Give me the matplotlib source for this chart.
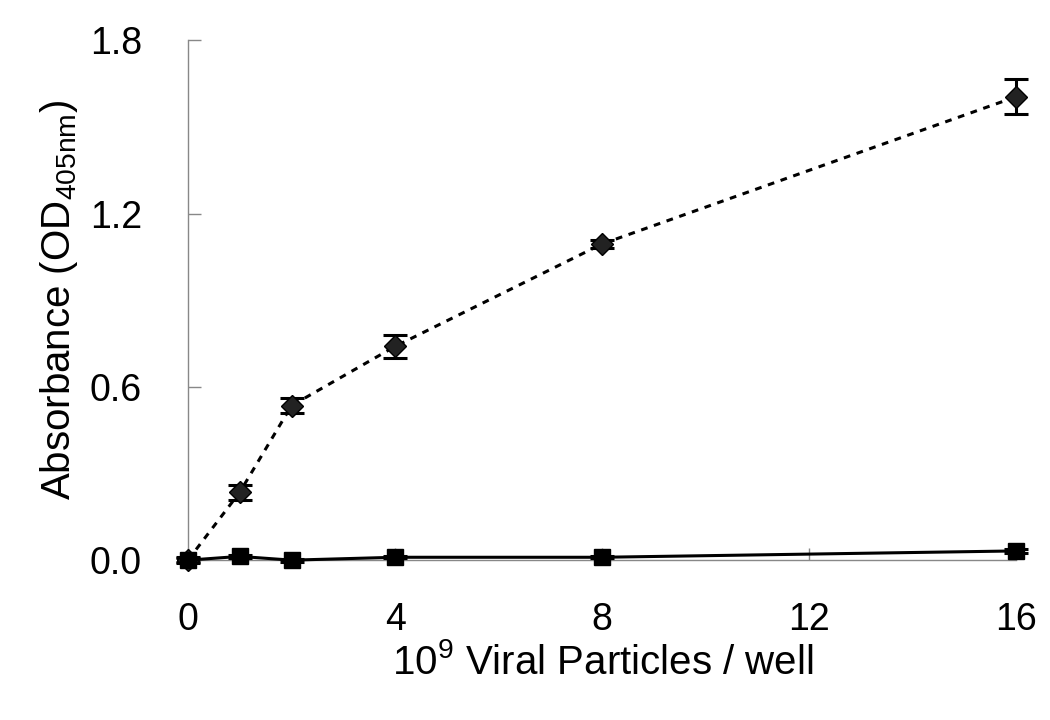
import matplotlib
matplotlib.use("Agg")
import matplotlib.pyplot as plt

plt.rcParams['font.family'] = ['Liberation Sans', 'DejaVu Sans']
plt.rcParams['mathtext.default'] = 'regular'

x_vals = [0, 1, 2, 4, 8, 16]
diamond_vals = [0.0, 0.235, 0.535, 0.74, 1.095, 1.605]
diamond_err = [0.01, 0.025, 0.025, 0.04, 0.015, 0.06]
square_vals = [0.0, 0.013, 0.0, 0.01, 0.01, 0.032]
square_err = [0.008, 0.006, 0.005, 0.004, 0.004, 0.008]
x_ticks = [0, 4, 8, 12, 16]
y_ticks = [0.0, 0.6, 1.2, 1.8]
y_tick_labels = ['0.0', '0.6', '1.2', '1.8']

fig = plt.figure(figsize=(10.5, 7.2), dpi=100)
ax = fig.add_axes([0.179, 0.222, 0.789, 0.722])

ax.errorbar(x_vals, diamond_vals, yerr=diamond_err, fmt='none', ecolor='black',
            elinewidth=2.2, capsize=8.5, capthick=2.2, clip_on=False, zorder=3)
ax.plot(x_vals, diamond_vals, color='black', lw=2.2, linestyle=(0, (2.2, 2.2)),
        marker='D', markersize=11, markerfacecolor='#222222', markeredgecolor='black',
        markeredgewidth=1, clip_on=False, zorder=4)

ax.errorbar(x_vals, square_vals, yerr=square_err, fmt='none', ecolor='black',
            elinewidth=2.2, capsize=8.5, capthick=2.2, clip_on=False, zorder=3)
ax.plot(x_vals, square_vals, color='black', lw=2.2, linestyle='-',
        marker='s', markersize=12, markerfacecolor='black', markeredgecolor='black',
        clip_on=False, zorder=5)

ax.set_xlim(0, 16)
ax.set_ylim(0, 1.8)
ax.set_xticks(x_ticks)
ax.set_yticks(y_ticks)
ax.set_yticklabels(y_tick_labels)

for s in ['top', 'right']:
    ax.spines[s].set_visible(False)
for s in ['left', 'bottom']:
    ax.spines[s].set_color('#888888')
    ax.spines[s].set_linewidth(1)

ax.tick_params(axis='y', direction='in', length=9, width=1, color='#888888',
               labelsize=27, pad=33)
ax.tick_params(axis='x', direction='in', length=9, width=1, color='#888888',
               labelsize=27, pad=30)

ax.set_xlabel('10$^{9}$ Viral Particles / well', fontsize=29, labelpad=4)
ax.set_ylabel('Absorbance (OD$_{405nm}$)', fontsize=29, labelpad=7)

fig.savefig('out.png', dpi=100, facecolor='white')
